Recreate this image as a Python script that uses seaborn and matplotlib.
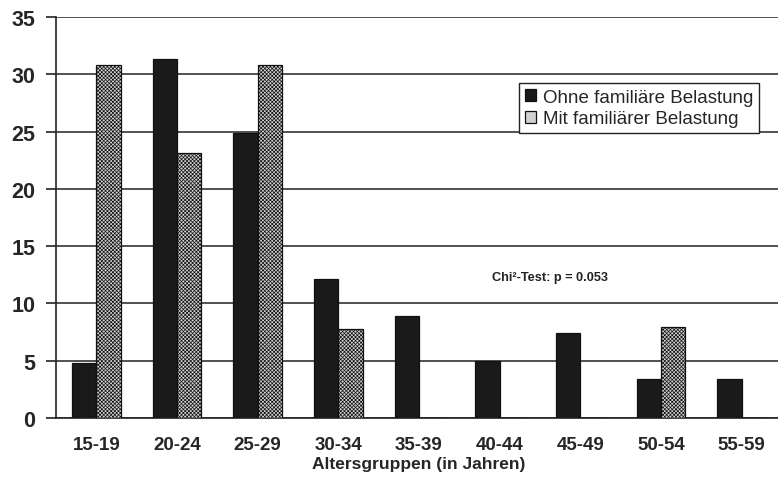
import pandas as pd
import numpy as np
import matplotlib
matplotlib.use("Agg")
import matplotlib.pyplot as plt
import seaborn as sns

# values
altersgruppen = ['15-19', '20-24', '25-29', '30-34', '35-39', '40-44', '45-49', '50-54', '55-59']
ohne = [4.8, 31.3, 24.9, 12.1, 8.9, 5.0, 7.4, 3.4, 3.4]
mit = [30.8, 23.1, 30.8, 7.8, 0, 0, 0, 7.9, 0]
serien = ['Ohne familiäre Belastung', 'Mit familiärer Belastung']
y_ticks = [0, 5, 10, 15, 20, 25, 30, 35]

df = pd.DataFrame({
    'Altersgruppe': altersgruppen * 2,
    'Anteil': ohne + mit,
    'Gruppe': [serien[0]] * len(altersgruppen) + [serien[1]] * len(altersgruppen),
})

sns.set_style('white')
plt.rcParams['font.family'] = ['Liberation Sans', 'DejaVu Sans']
plt.rcParams['hatch.color'] = '#8a8a8a'
plt.rcParams['hatch.linewidth'] = 0.5

fig = plt.figure(figsize=(7.78, 4.81), dpi=100)
ax = fig.add_axes([56 / 778, 62 / 481, 726 / 778, 401 / 481])

sns.barplot(data=df, x='Altersgruppe', y='Anteil', hue='Gruppe', order=altersgruppen,
            hue_order=serien, palette=['#1a1a1a', '#d0d0d0'], width=0.6,
            edgecolor='#111111', linewidth=0.9, saturation=1, ax=ax, zorder=3)

# fine stipple texture on the grey bars
for bar in ax.containers[1]:
    bar.set_hatch('xxxxxxxxx')

ax.set_ylim(0, 35)
ax.set_xlim(-0.5, len(altersgruppen) - 0.5)
ax.set_yticks(y_ticks)
ax.set_yticklabels([str(t) for t in y_ticks], fontsize=15.5, fontweight='bold')
ax.set_xticks(range(len(altersgruppen)))
ax.set_xticklabels(altersgruppen, fontsize=13.5, fontweight='bold')
ax.tick_params(axis='x', which='major', length=0, pad=13)
ax.set_xticks(np.arange(-0.5, len(altersgruppen), 1), minor=True)
ax.tick_params(axis='x', which='minor', length=6, width=1.2, direction='out', color='#222222')
ax.tick_params(axis='y', length=7, width=1.2, direction='out', color='#222222', pad=8, left=True)

ax.yaxis.grid(True, color='#222222', linewidth=1.1, zorder=0)
ax.set_axisbelow(True)
for s in ['top', 'right']:
    ax.spines[s].set_visible(False)
ax.spines['left'].set_color('#222222')
ax.spines['left'].set_linewidth(1.2)
ax.spines['bottom'].set_color('#222222')
ax.spines['bottom'].set_linewidth(1.2)

ax.set_xlabel('Altersgruppen (in Jahren)', fontsize=12.5, fontweight='bold', labelpad=2)
ax.set_ylabel('')

leg = ax.legend(loc='upper left', bbox_to_anchor=(463 / 726, 1 - 66 / 401), fontsize=13.5,
                frameon=True, fancybox=False, edgecolor='#222222', framealpha=1,
                handlelength=0.6, handleheight=0.6, handletextpad=0.4,
                borderpad=0.3, labelspacing=0.25, borderaxespad=0)
leg.get_frame().set_linewidth(1.0)

ax.text(5.63, 12.3, 'Chi²-Test: p = 0.053', fontsize=9.2, fontweight='bold',
        ha='center', va='center', color='#222222')

fig.savefig('out.png', dpi=100)
